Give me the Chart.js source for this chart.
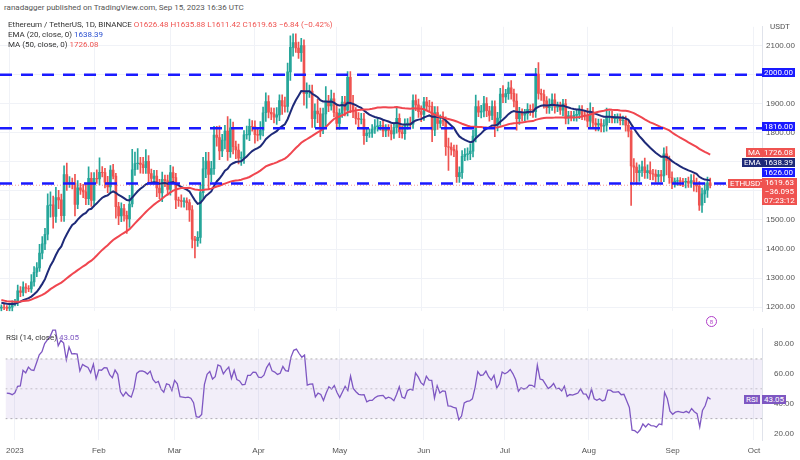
<!DOCTYPE html>
<html><head><meta charset="utf-8">
<script src="https://cdn.jsdelivr.net/npm/chart.js@4.4.0/dist/chart.umd.min.js"></script>
<style>
body{margin:0;width:800px;height:460px;background:#fff;position:relative;overflow:hidden;font-family:Roboto,"Noto Sans",sans-serif}
canvas{position:absolute;left:0}
.t{position:absolute;font-size:8px;color:#333;white-space:nowrap;line-height:10px}
.b{position:absolute;font-size:8px;color:#fff;white-space:nowrap;line-height:9px;padding:0 2px;text-align:center}
</style></head><body>
<canvas id="p" width="800" height="302" style="top:18px;width:800px;height:302px"></canvas>
<canvas id="r" width="800" height="140" style="top:320px;width:800px;height:140px"></canvas>
<div class="t" style="left:4px;top:3px;color:#555">ranadagger published on TradingView.com, Sep 15, 2023 16:36 UTC</div>
<div class="t" style="left:8px;top:20px">Ethereum / TetherUS, 1D, BINANCE <span style="color:#ef5350">O</span><span style="color:#ef5350">1626.48</span> <span style="color:#ef5350">H1635.88</span> <span style="color:#ef5350">L1611.42</span> <span style="color:#ef5350">C1619.63</span> <span style="color:#ef5350">−6.84 (−0.42%)</span></div>
<div class="t" style="left:8px;top:30px">EMA (20, close, 0) <span style="color:#2a4fd0">1638.39</span></div>
<div class="t" style="left:8px;top:40px">MA (50, close, 0) <span style="color:#ef5350">1726.08</span></div>
<div class="t" style="left:770px;top:22px;color:#555">USDT</div>
<div class="b" style="left:762px;top:68px;background:#1a1aff">2000.00</div>
<div class="b" style="left:762px;top:122px;background:#1a1aff">1816.00</div>
<div class="b" style="left:746px;top:148px;background:#ef5350">MA</div>
<div class="b" style="left:762px;top:148px;background:#ef5350">1726.08</div>
<div class="b" style="left:742px;top:158px;background:#1e2a78">EMA</div>
<div class="b" style="left:762px;top:158px;background:#1e2a78">1638.39</div>
<div class="b" style="left:762px;top:168px;background:#1a1aff">1626.00</div>
<div class="b" style="left:728px;top:179px;background:#ef5350">ETHUSDT</div>
<div class="b" style="left:762px;top:178px;background:#ef5350;line-height:9px">1619.63<br>−36.095<br>07:23:12</div>
<div style="position:absolute;left:706px;top:316px;width:9px;height:9px;border:1px solid #b03fc8;border-radius:50%;font-size:6px;color:#b03fc8;text-align:center;line-height:9px">8</div>
<div class="t" style="left:6px;top:333px;color:#333">RSI (14, close) <span style="color:#7e57c2">43.05</span></div>
<div class="b" style="left:744px;top:395px;background:#7e57c2">RSI</div>
<div class="b" style="left:762px;top:395px;background:#7e57c2">43.05</div>
<script>
// ---- data ----
const priorCloses=[1100,1299,1287,1258,1218,1242,1251,1216,1200,1214,1219,1141,1108,1135,1182,1202,1206,1196,1170,1218,1268,1295,1279,1295,1246,1249,1261,1232,1263,1278,1264,1276,1273,1265,1215,1184,1168,1190,1210,1217,1220,1219,1211,1220,1223,1218,1220,1208,1199,1190];
const firstOpen=1196;
const cDec=[1200,1199,1196];
const cJan=[1200,1214,1215,1256,1251,1269,1264,1263,1287,1320,1335,1386,1418,1451,1550,1552,1512,1577,1569,1515,1656,1627,1629,1627,1554,1611,1603,1597,1573,1643,1567,1585].slice(0,31);
const cFeb=[1643,1641,1664,1663,1630,1614,1672,1651,1546,1514,1539,1516,1504,1555,1673,1694,1696,1691,1680,1702,1660,1643,1651,1610,1593,1640,1635,1605];
const cMar=[1663,1646,1569,1567,1564,1566,1560,1535,1434,1429,1440,1594,1676,1703,1657,1677,1792,1784,1738,1775,1806,1735,1817,1752,1741,1713,1715,1793,1793,1822,1821];
const cApr=[1794,1792,1809,1869,1908,1871,1865,1854,1862,1911,1893,1891,2010,2094,2111,2092,2076,2100,1935,1942,1944,1849,1875,1865,1817,1865,1909,1893,1917,1870];
const cMay=[1832,1868,1906,1878,1991,1899,1872,1850,1846,1847,1790,1799,1799,1813,1821,1824,1825,1807,1813,1808,1796,1819,1850,1803,1797,1828,1834,1830,1911,1896,1873];
const cJun=[1863,1907,1892,1891,1810,1870,1832,1842,1840,1752,1751,1743,1738,1649,1663,1719,1726,1728,1737,1789,1890,1871,1875,1901,1876,1860,1890,1827,1851,1933];
const cJul=[1924,1935,1955,1936,1909,1849,1868,1861,1866,1881,1880,1873,2002,1936,1932,1910,1887,1897,1914,1888,1891,1878,1900,1851,1859,1856,1860,1864,1879,1860,1859];
const cAug=[1840,1873,1834,1827,1832,1823,1826,1855,1855,1849,1849,1850,1842,1843,1826,1806,1686,1682,1663,1670,1683,1663,1670,1659,1658,1650,1656,1652,1728,1705,1646];
const cSep=[1628,1634,1636,1633,1630,1633,1627,1636,1624,1617,1551,1590,1603,1628,1620];
const wickUp=[8,10,6,
10,8,12,20,15,18,12,10,25,20,18,30,25,20,40,45,30,35,25,20,30,40,20,15,30,25,15,20,30,40,20,
20,30,50,20,15,20,15,20,10,15,20,15,15,30,70,40,50,20,25,40,20,15,20,20,30,25,15,20,
25,20,15,10,20,10,10,10,15,10,20,30,40,30,30,25,30,30,40,20,20,50,30,20,20,20,20,15,30,25,20,
20,20,30,20,30,20,15,20,25,20,20,30,30,40,30,30,20,25,20,30,20,20,25,40,20,20,50,20,30,20,
30,15,20,20,20,20,30,15,20,20,20,20,15,15,25,25,15,20,15,15,20,15,40,15,20,20,15,20,20,20,20,
20,15,15,20,15,20,20,20,30,15,30,15,15,20,20,20,20,20,25,20,40,20,20,25,20,15,20,20,20,20,
30,15,20,25,15,25,20,15,15,20,15,20,20,40,15,15,15,20,20,20,15,15,15,15,15,15,15,15,15,15,15,
25,30,15,15,15,15,20,30,20,20,15,15,15,15,15,15,15,25,15,20,20,30,20,30,15,15,15,15,20,25,15,
20,10,10,10,10,10,15,20,20,20,15,20,25,20,16];
const wickDn=[10,8,8,
10,15,10,10,15,12,15,10,12,15,15,12,20,20,20,40,40,20,30,20,20,25,15,20,40,15,15,20,20,20,20,
20,15,20,15,20,20,20,10,40,30,20,20,50,30,10,20,20,30,20,20,30,20,20,30,20,30,20,20,
20,20,30,20,20,20,25,40,30,60,20,20,20,30,50,25,20,30,30,20,30,30,20,25,30,20,25,20,15,20,15,
30,20,15,20,30,20,20,20,25,20,30,20,20,30,30,15,20,30,40,50,20,30,30,30,30,20,40,20,15,15,
20,20,15,20,20,30,20,20,30,15,30,20,15,15,15,15,15,20,20,20,20,15,20,20,15,20,15,15,15,20,20,
25,20,15,15,40,20,20,15,15,30,80,20,20,20,20,20,15,20,20,20,20,15,20,20,20,20,15,40,20,25,
20,20,20,20,20,40,20,20,20,20,20,20,20,20,20,25,20,20,20,20,15,15,20,20,20,15,15,20,15,15,15,
20,20,20,20,20,20,20,20,20,15,15,15,15,15,20,20,136,50,40,30,20,20,20,20,20,20,20,20,20,50,20,
20,15,15,15,15,20,15,15,25,20,18,25,30,25,10];
const levels=[2000,1816,1626];
const lastPrice=1619.63;
const priceTicks=[1200,1300,1400,1500,1600,1700,1800,1900,2000,2100];
const monthDays=[0,31,59,90,120,151,181,212,243,273];
const monthLabels=['2023','Feb','Mar','Apr','May','Jun','Jul','Aug','Sep','Oct'];
const rsiTicks=[20,40,60,80];

// ---- build ----
const closes=[].concat(cDec,cJan,cFeb,cMar,cApr,cMay,cJun,cJul,cAug,cSep);
const days=closes.map((_,i)=>i-3);
const opens=closes.map((c,i)=>i===0?firstOpen:closes[i-1]);
const highs=closes.map((c,i)=>Math.max(c,opens[i])+(wickUp[i]??15));
const lows=closes.map((c,i)=>Math.min(c,opens[i])-(wickDn[i]??15));
const all=priorCloses.concat(closes), P=priorCloses.length;
const ema=[];let e=all.slice(0,20).reduce((a,b)=>a+b)/20;
for(let i=0;i<all.length;i++){if(i>=20)e=all[i]*2/21+e*19/21;ema.push(e);}
const ma=all.map((_,i)=>{const s=all.slice(Math.max(0,i-49),i+1);return s.reduce((a,b)=>a+b)/s.length;});
const rsi=[];let ag=0,al=0;
for(let i=1;i<all.length;i++){const d=all[i]-all[i-1];const g=Math.max(d,0),l=Math.max(-d,0);
 if(i<=14){ag+=g/14;al+=l/14;}else{ag=(ag*13+g)/14;al=(al*13+l)/14;}rsi.push(100-100/(1+ag/al));}
const rsiSeries=days.map((d,i)=>({x:d,y:rsi[P+i-1]}));
const up=closes.map((c,i)=>c>=opens[i]);
const G='#26a69a',R='#ef5350';
const XMIN=-3.5,XMAX=276;
const fitR=a=>{a.width=38;};
const xCommon={type:'linear',offset:false,min:XMIN,max:XMAX,afterBuildTicks:a=>{a.ticks=monthDays.map(v=>({value:v}));},
 grid:{color:'#f0f2f7',drawTicks:false,offset:false},border:{display:false}};

new Chart(document.getElementById('p'),{type:'bar',
 data:{datasets:[
  ...levels.map(l=>({type:'line',data:[{x:XMIN,y:l},{x:XMAX,y:l}],borderColor:'#1a1aff',borderWidth:2.5,borderDash:[12,9],pointRadius:0,order:0})),
  {type:'line',data:[{x:XMIN,y:lastPrice},{x:XMAX,y:lastPrice}],borderColor:'rgba(239,83,80,0.6)',borderWidth:1,borderDash:[1,2],pointRadius:0,order:1},
  {type:'line',data:days.map((d,i)=>({x:d,y:ma[P+i]})),borderColor:'#f0464f',borderWidth:2,pointRadius:0,tension:0,order:2},
  {type:'line',data:days.map((d,i)=>({x:d,y:ema[P+i]})),borderColor:'#1e2a78',borderWidth:2,pointRadius:0,tension:0,order:2},
  {data:days.map((d,i)=>({x:d,y:[lows[i],highs[i]]})),backgroundColor:up.map(u=>u?G:R),barThickness:1,grouped:false,order:4},
  {data:days.map((d,i)=>({x:d,y:[opens[i],closes[i]===opens[i]?closes[i]+1:closes[i]]})),backgroundColor:up.map(u=>u?G:R),barThickness:2,grouped:false,order:3}
 ]},
 options:{animation:false,responsive:false,devicePixelRatio:1,layout:{padding:0},
  plugins:{legend:{display:false},tooltip:{enabled:false}},
  scales:{x:{...xCommon,afterFit:a=>{a.height=0;},ticks:{display:false}},
   y:{position:'right',min:1186,max:2165,afterFit:fitR,afterBuildTicks:a=>{a.ticks=priceTicks.map(v=>({value:v}));},
    grid:{color:'#f0f2f7',drawTicks:false},border:{display:true,color:'#e0e3eb'},
    ticks:{color:'#555',font:{size:8},padding:4,callback:v=>v.toFixed(2)}}}}});

new Chart(document.getElementById('r'),{type:'line',
 data:{datasets:[
  {data:[{x:XMIN,y:70},{x:XMAX,y:70}],borderColor:'#b0b0b0',borderWidth:1,borderDash:[2,3],pointRadius:0,fill:'+1',backgroundColor:'rgba(126,87,194,0.1)'},
  {data:[{x:XMIN,y:30},{x:XMAX,y:30}],borderColor:'#b0b0b0',borderWidth:1,borderDash:[2,3],pointRadius:0},
  {data:[{x:XMIN,y:50},{x:XMAX,y:50}],borderColor:'#c8c8c8',borderWidth:1,borderDash:[2,3],pointRadius:0},
  {data:rsiSeries,borderColor:'#7e57c2',borderWidth:1.3,pointRadius:0,tension:0}
 ]},
 options:{animation:false,responsive:false,devicePixelRatio:1,layout:{padding:0},
  plugins:{legend:{display:false},tooltip:{enabled:false}},
  scales:{x:{...xCommon,afterFit:a=>{a.height=20;},ticks:{color:'#555',font:{size:8},padding:6,maxRotation:0,callback:v=>monthLabels[monthDays.indexOf(v)]}},
   y:{position:'right',min:15.7,max:90.2,afterFit:fitR,afterBuildTicks:a=>{a.ticks=rsiTicks.map(v=>({value:v}));},
    grid:{display:false},border:{display:true,color:'#e0e3eb'},
    ticks:{color:'#555',font:{size:8},padding:4,callback:v=>v.toFixed(2)}}}}});
</script>
</body></html>
